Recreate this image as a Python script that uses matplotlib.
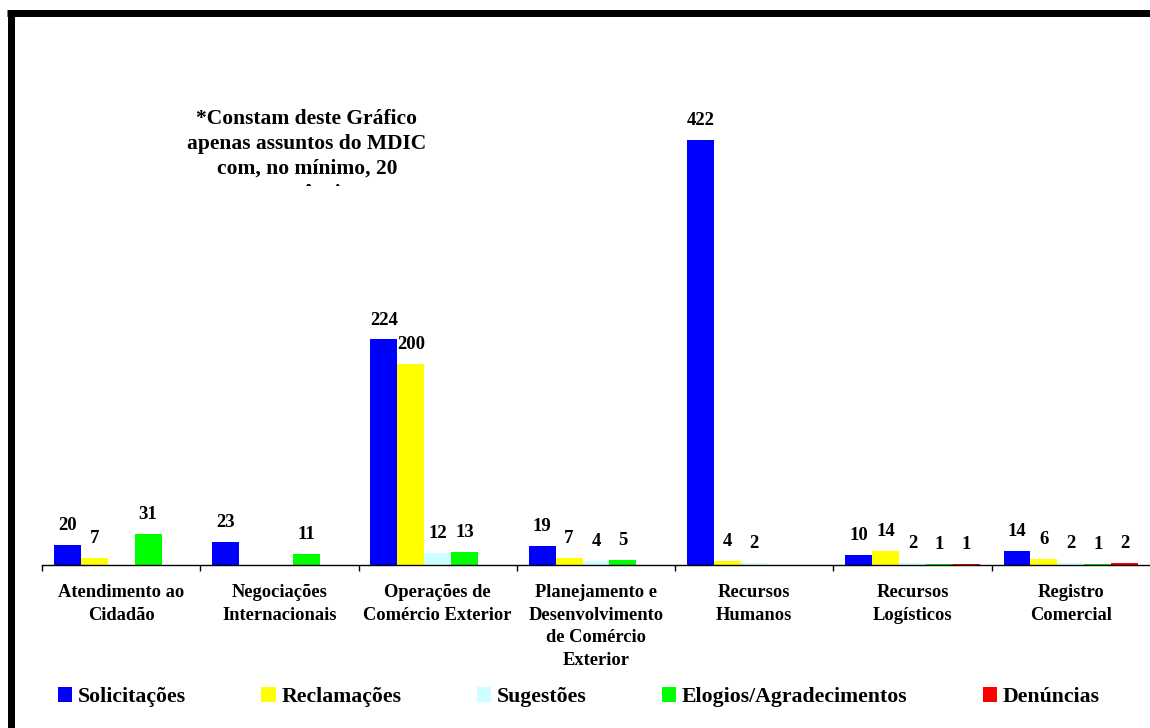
import matplotlib
matplotlib.use("Agg")
import matplotlib.pyplot as plt
from matplotlib.lines import Line2D
from matplotlib.transforms import Bbox
import numpy as np

categories = [
    "Atendimento ao\nCidadão",
    "Negociações\nInternacionais",
    "Operações de\nComércio Exterior",
    "Planejamento e\nDesenvolvimento\nde Comércio\nExterior",
    "Recursos\nHumanos",
    "Recursos\nLogísticos",
    "Registro\nComercial",
]
series_names = ["Solicitações", "Reclamações", "Sugestões", "Elogios/Agradecimentos", "Denúncias"]
solicitacoes = [20, 23, 224, 19, 422, 10, 14]
reclamacoes = [7, 0, 200, 7, 4, 14, 6]
sugestoes = [0, 0, 12, 4, 2, 2, 2]
elogios = [31, 11, 13, 5, 0, 1, 1]
denuncias = [0, 0, 0, 0, 0, 1, 2]
series_values = [solicitacoes, reclamacoes, sugestoes, elogios, denuncias]
colors = ["#0000FF", "#FFFF00", "#CCFFFF", "#00FF00", "#FF0000"]
note = "*Constam deste Gráfico\napenas assuntos do MDIC\ncom, no mínimo, 20\nocorrências"

plt.rcParams["font.family"] = ["Liberation Serif", "DejaVu Serif"]
plt.rcParams["font.weight"] = "bold"

W, H = 1150, 728
fig = plt.figure(figsize=(W / 100, H / 100), dpi=100)
fig.patch.set_facecolor("white")

ax_left, ax_bottom_px, ax_top_px = 42, 565, 61.5
ax = fig.add_axes([ax_left / W, (H - ax_bottom_px) / H, (W - ax_left) / W,
                   (ax_bottom_px - ax_top_px) / H])
ax.set_facecolor("none")

n = len(categories)
x = np.arange(n) + 0.5
bw = 0.17
for j, (name, vals, c) in enumerate(zip(series_names, series_values, colors)):
    xs = x + (j - 2) * bw
    ax.bar(xs, vals, width=bw, color=c, label=name, linewidth=0)
    for xi, v in zip(xs, vals):
        if v > 0:
            ax.annotate(str(v), (xi, v), xytext=(0, 10.5), textcoords="offset points",
                        ha="center", va="baseline", fontsize=13.5, fontweight="bold")

ax.set_xlim(0, n)
ax.set_ylim(0, 500)
for s in ["top", "right", "left"]:
    ax.spines[s].set_visible(False)
ax.spines["bottom"].set_linewidth(1.0)
ax.set_yticks([])
ax.set_xticks(np.arange(n))
ax.set_xticklabels([])
ax.tick_params(axis="x", which="major", length=4, width=1, direction="out")
ax.set_xticks(x, minor=True)
ax.set_xticklabels(categories, minor=True, fontsize=13.3, fontweight="bold", linespacing=1.42)
ax.tick_params(axis="x", which="minor", length=0, pad=14)

# note text (partially clipped by its box)
t = fig.text(307 / W, 1 - 109 / H, note, ha="center", va="top", fontsize=15.5,
             fontweight="bold", linespacing=1.33)
t.set_clip_box(Bbox([[150, H - 186], [470, H - 90]]))
t.set_clip_on(True)

# legend
leg = fig.legend(loc="center left", bbox_to_anchor=(58 / W, 31 / H), ncol=5,
                 frameon=False, handlelength=0.65, handleheight=0.65,
                 handletextpad=0.28, columnspacing=3.44, borderpad=0, borderaxespad=0,
                 prop={"weight": "bold", "size": 15.7})

# thick frame lines (top and left)
fig.add_artist(Line2D([7 / W, 1.0], [1 - 13 / H, 1 - 13 / H], color="black",
                      linewidth=7 * 0.72, transform=fig.transFigure, solid_capstyle="butt"))
fig.add_artist(Line2D([10.5 / W, 10.5 / W], [0, 1 - 10 / H], color="black",
                      linewidth=7 * 0.72, transform=fig.transFigure, solid_capstyle="butt"))

fig.savefig("out.png", dpi=100)
